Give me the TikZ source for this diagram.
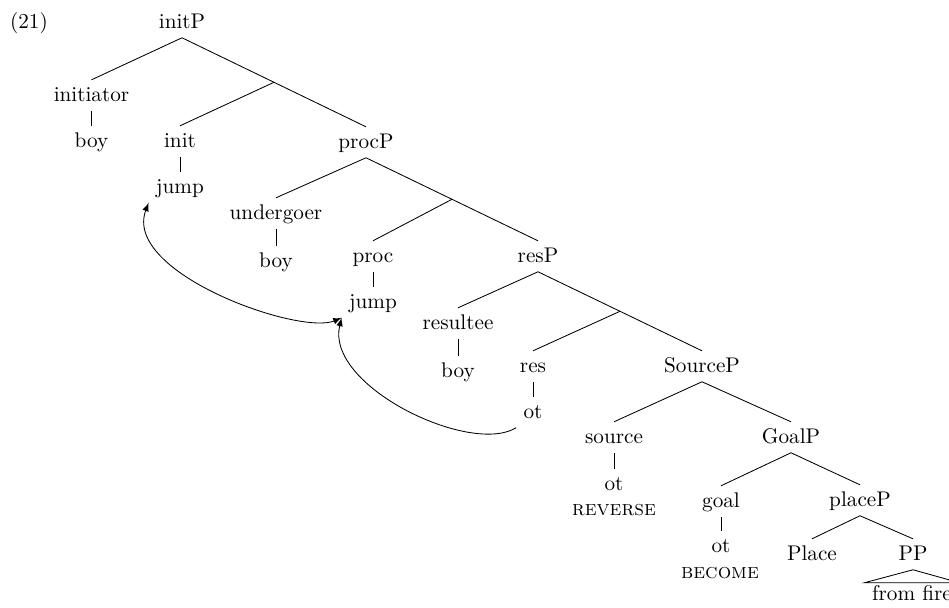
\documentclass[tikz,border=0pt]{standalone}
\usetikzlibrary{calc}

\begin{document}
\begin{tikzpicture}[x=0.4717pt, y=-0.4717pt]
		\useasboundingbox (0,0) rectangle (949,608);

		% Example number
		\node (num) at (29,28) [anchor=base] {(21)};

		% Phrases
		\begin{scope}[every node/.style={anchor=base,text height=1.5ex,text depth=.25ex}]
			\node (initP) at (182,28) {initP};
			\node (procP) at (366,148) {procP};
			\node (resP) at (538,262) {resP};
			\node (SourceP) at (702,372) {SourceP};
			\node (GoalP) at (791,443) {GoalP};
			\node (placeP) at (860,506) {placeP};
			\node (PP) at (913,560) {PP};
			\node (fire) at (912,600) [inner ysep=1.5pt] {from fire};
		\end{scope}

		% Specifiers
		\begin{scope}[every node/.style={anchor=base,text height=1.5ex,text depth=.25ex}]
			\node (initiator) at (91.5,101) {initiator};
			\node (boy1) at (91.5,147) {boy};
			\node (undergoer) at (276,219) {undergoer};
			\node (boy2) at (276,267) {boy};
			\node (resultee) at (458,329) {resultee};
			\node (boy3) at (458,377) {boy};
		\end{scope}

		% Heads
		\begin{scope}[every node/.style={anchor=base,text height=1.5ex,text depth=.25ex}]
			\node (init) at (180,147) {init};
			\node (jump1) at (180,193) {jump};
			\node (proc) at (373,262) {proc};
			\node (jump2) at (373,308) {jump};
			\node (res) at (533,372) {res};
			\node (otres) at (533,418) {ot};
			\node (source) at (614,443) {source};
			\node (otsource) at (614,490) {ot};
			\node (reverse) at (614,515) {\textsc{reverse}};
			\node (goal) at (721,507) {goal};
			\node (otgoal) at (721,552) {ot};
			\node (become) at (720,578) {\textsc{become}};
			\node (Place) at (812,560) {Place};
		\end{scope}

		% Bar levels
		\coordinate (initbar) at ($(initP.south)!.5!(procP.north)$);
		\coordinate (procbar) at ($(procP.south)!.5!(resP.north)$);
		\coordinate (resbar) at ($(resP.south)!.5!(SourceP.north)$);

		% Branches
		\begin{scope}[every edge/.style={draw}]
			\path (initP.south) edge (initiator.north);
			\path (initP.south) edge (procP.north);
			\path (initbar) edge (init.north);
			\path (procP.south) edge (undergoer.north);
			\path (procP.south) edge (resP.north);
			\path (procbar) edge (proc.north);
			\path (resP.south) edge (resultee.north);
			\path (resP.south) edge (SourceP.north);
			\path (resbar) edge (res.north);
			\path (SourceP.south) edge (source.north);
			\path (SourceP.south) edge (GoalP.north);
			\path (GoalP.south) edge (goal.north);
			\path (GoalP.south) edge (placeP.north);
			\path (placeP.south) edge (Place.north);
			\path (placeP.south) edge (PP.north);
			\path (initiator.south) edge (boy1.north);
			\path (init.south) edge (jump1.north);
			\path (undergoer.south) edge (boy2.north);
			\path (proc.south) edge (jump2.north);
			\path (resultee.south) edge (boy3.north);
			\path (res.south) edge (otres.north);
			\path (source.south) edge (otsource.north);
			\path (goal.south) edge (otgoal.north);
		\end{scope}
		\draw (PP.south) -- (fire.north west) -- (fire.north east) -- cycle;

		% Movement
		\draw [-latex] (otres.south west) .. controls +(-46,28) and +(-17,68) .. (jump2.south west);
		\draw [latex-latex] (jump2.south west) .. controls +(-42,18) and +(-27,70) .. (jump1.south west);

	\end{tikzpicture}
\end{document}
